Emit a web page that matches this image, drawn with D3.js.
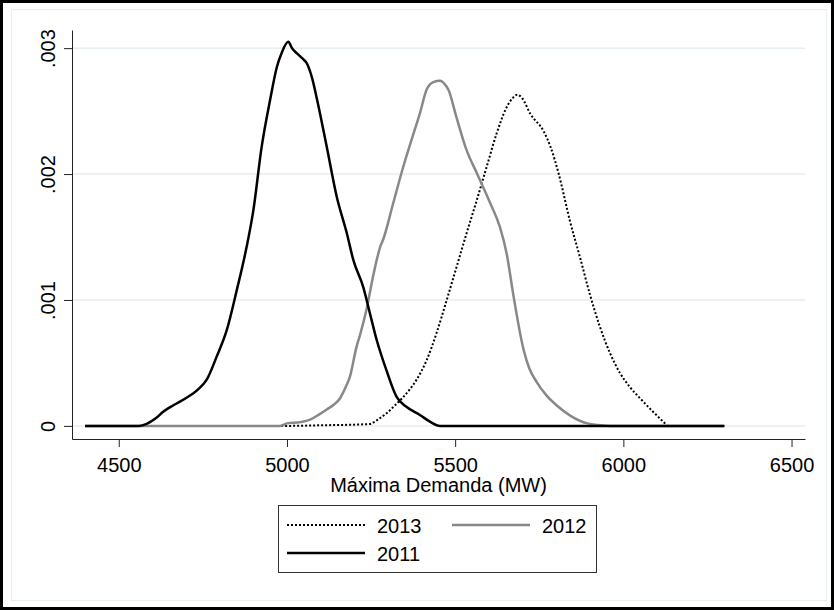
<!DOCTYPE html>
<html>
<head>
<meta charset="utf-8">
<script src="https://cdn.jsdelivr.net/npm/d3@7"></script>
<style>
    html, body { margin: 0; padding: 0; background: #fff; }
    svg { display: block; }
    text { font-family: "Liberation Sans", Arial, sans-serif; fill: #000; }
</style>
</head>
<body>
<svg id="chart" width="834" height="610"></svg>
<script>
// kernel density of max demand, one series per year [MW, density]
const demand2013 = [
    [4400, 0], [5000, 0], [5100, 0.000005], [5200, 0.00001], [5247, 0.000016],
    [5270, 0.00005], [5296, 0.0001], [5320, 0.00016], [5346, 0.00023], [5386, 0.00037],
    [5415, 0.00052], [5445, 0.00074], [5475, 0.001], [5504, 0.00126], [5534, 0.00153],
    [5564, 0.00179], [5594, 0.00206], [5623, 0.00232], [5653, 0.00253], [5670, 0.0026],
    [5685, 0.00263], [5700, 0.0026], [5723, 0.00248], [5763, 0.00234], [5783, 0.00222],
    [5808, 0.002], [5841, 0.00163], [5871, 0.00134], [5900, 0.00105], [5930, 0.00079],
    [5960, 0.00058], [5990, 0.00042], [6019, 0.00031], [6053, 0.00021], [6093, 0.0001],
    [6120, 0.00003], [6133, 0], [6300, 0]
];
const demand2012 = [
    [4400, 0], [4980, 0], [5000, 0.00002], [5040, 0.00003], [5069, 0.00005],
    [5095, 0.00009], [5118, 0.00013], [5140, 0.00017], [5158, 0.00022], [5175, 0.00031],
    [5187, 0.00039], [5207, 0.00063], [5217, 0.00072], [5237, 0.00093], [5257, 0.0012],
    [5277, 0.00142], [5286, 0.00148], [5316, 0.00177], [5346, 0.00206], [5376, 0.00232],
    [5395, 0.00248], [5415, 0.00267], [5435, 0.00273], [5455, 0.00274], [5470, 0.00271],
    [5480, 0.00267], [5504, 0.00245], [5534, 0.00219], [5564, 0.00201], [5604, 0.00177],
    [5633, 0.00158], [5653, 0.00137], [5673, 0.00104], [5703, 0.00061], [5720, 0.00046],
    [5742, 0.00035], [5772, 0.00024], [5803, 0.00016], [5843, 0.00008], [5893, 0.00002],
    [5940, 0.000004], [5980, 0], [6300, 0]
];
const demand2011 = [
    [4400, 0], [4560, 0], [4583, 0.000016], [4610, 0.00006], [4633, 0.000114],
    [4660, 0.00016], [4682, 0.000193], [4705, 0.00023], [4722, 0.00026], [4740, 0.0003],
    [4761, 0.000365], [4791, 0.00055], [4821, 0.00076], [4851, 0.00108], [4880, 0.00142],
    [4900, 0.00171], [4925, 0.00222], [4950, 0.00259], [4970, 0.00285], [4984, 0.00296],
    [5004, 0.00305], [5015, 0.003], [5029, 0.00296], [5045, 0.00292], [5059, 0.00288],
    [5075, 0.00276], [5088, 0.00261], [5118, 0.00222], [5148, 0.00182], [5178, 0.00153],
    [5197, 0.00132], [5227, 0.0011], [5247, 0.00089], [5267, 0.00068], [5296, 0.00044],
    [5326, 0.00023], [5356, 0.00015], [5395, 0.000087], [5425, 0.000034], [5455, 0],
    [6300, 0]
];

const xTicks = [4500, 5000, 5500, 6000, 6500];
const yTicks = [0, 0.001, 0.002, 0.003];
const yTickLabels = ['0', '.001', '.002', '.003'];
const xTitle = 'Máxima Demanda (MW)';

const series = [
    { name: '2013', data: demand2013, color: '#000', width: 2, dash: '2,2' },
    { name: '2012', data: demand2012, color: '#888', width: 2.5, dash: null },
    { name: '2011', data: demand2011, color: '#000', width: 2.5, dash: null },
];

const svg = d3.select('#chart');

// outer graph frame and light plot-region frame
svg.append('rect')
    .attr('x', 1.5).attr('y', 1.5)
    .attr('width', 831).attr('height', 607)
    .attr('fill', '#fff')
    .attr('stroke', '#000')
    .attr('stroke-width', 3);
svg.append('rect')
    .attr('x', 11.5).attr('y', 9.5)
    .attr('width', 815).attr('height', 591)
    .attr('fill', 'none')
    .attr('stroke', '#e8eff1')
    .attr('stroke-width', 1.2);

const x = d3.scaleLinear().domain([4361, 6540]).range([72, 805]);
const y = d3.scaleLinear().domain([-0.000104, 0.003144]).range([439, 30]);

// grid lines
svg.append('g')
    .selectAll('line')
    .data(yTicks)
    .enter()
    .append('line')
    .attr('x1', 72).attr('x2', 805)
    .attr('y1', d => y(d)).attr('y2', d => y(d))
    .attr('stroke', '#e6eef1')
    .attr('stroke-width', 1.5);

// x axis
const xAxis = svg.append('g')
    .attr('transform', 'translate(0,439)')
    .call(d3.axisBottom(x).tickValues(xTicks).tickSize(8).tickSizeOuter(0).tickFormat(d3.format('d')));
xAxis.select('.domain').attr('stroke', '#222');
xAxis.selectAll('.tick line').attr('stroke', '#222');
xAxis.selectAll('.tick text')
    .attr('y', 33).attr('dy', 0)
    .attr('font-size', 20)
    .attr('fill', '#000');

// y axis, rotated labels
const yAxis = svg.append('g')
    .attr('transform', 'translate(72,0)')
    .call(d3.axisLeft(y).tickValues(yTicks).tickSize(8).tickSizeOuter(0)
        .tickFormat((d, i) => yTickLabels[i]));
yAxis.select('.domain').attr('stroke', '#222');
yAxis.selectAll('.tick line').attr('stroke', '#222');
yAxis.selectAll('.tick text')
    .attr('transform', 'rotate(-90)')
    .attr('x', 0).attr('y', -17).attr('dy', 0)
    .attr('text-anchor', 'middle')
    .attr('font-size', 20)
    .attr('fill', '#000');

svg.append('text')
    .attr('x', 438.5).attr('y', 491.5)
    .attr('text-anchor', 'middle')
    .attr('font-size', 20)
    .text(xTitle);

// density curves, drawn in legend order so 2011 sits on top
const line = d3.line()
    .x(d => x(d[0]))
    .y(d => y(d[1]))
    .curve(d3.curveMonotoneX);

svg.append('g')
    .selectAll('path')
    .data(series)
    .enter()
    .append('path')
    .attr('d', d => line(d.data))
    .attr('fill', 'none')
    .attr('stroke', d => d.color)
    .attr('stroke-width', d => d.width)
    .attr('stroke-dasharray', d => d.dash)
    .attr('stroke-linejoin', 'round');

// legend
const legend = svg.append('g');
legend.append('rect')
    .attr('x', 278.5).attr('y', 505.5)
    .attr('width', 318).attr('height', 67)
    .attr('fill', '#fff')
    .attr('stroke', '#333')
    .attr('stroke-width', 1);

const legendPos = [
    { x: 287, y: 525 },
    { x: 452, y: 525 },
    { x: 287, y: 553 },
];
series.forEach((s, i) => {
    const p = legendPos[i];
    legend.append('line')
        .attr('x1', p.x).attr('x2', p.x + 78)
        .attr('y1', p.y).attr('y2', p.y)
        .attr('stroke', s.color)
        .attr('stroke-width', s.width)
        .attr('stroke-dasharray', s.dash);
    legend.append('text')
        .attr('x', p.x + 90).attr('y', p.y + 7.5)
        .attr('font-size', 20)
        .text(s.name);
});
</script>
</body>
</html>
